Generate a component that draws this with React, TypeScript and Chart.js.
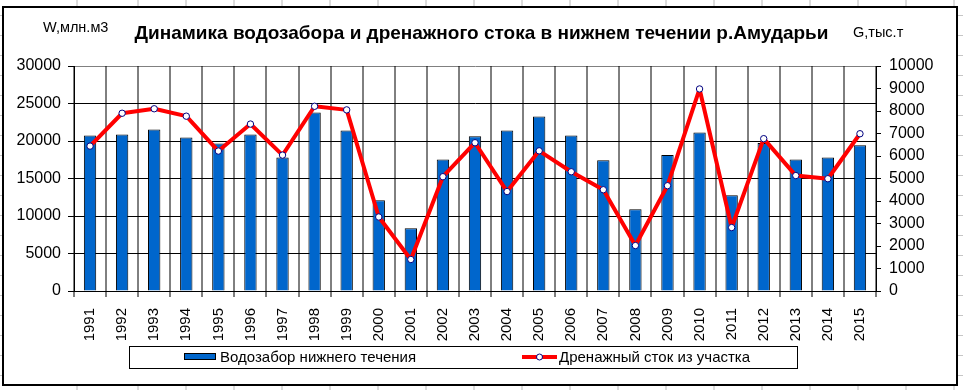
import React, { useEffect, useRef } from "react";
import { Chart, registerables } from "chart.js";

Chart.register(...registerables);

const years = ["1991","1992","1993","1994","1995","1996","1997","1998","1999","2000","2001","2002","2003","2004","2005","2006","2007","2008","2009","2010","2011","2012","2013","2014","2015"];
const waterIntake = [20740, 20870, 21540, 20470, 19680, 20870, 17810, 23800, 21400, 12100, 8380, 17550, 20650, 21400, 23260, 20740, 17420, 10900, 18120, 21140, 12760, 19720, 17550, 17810, 19450];
const drainage = [6440, 7900, 8100, 7770, 6220, 7420, 6040, 8210, 8050, 3290, 1400, 5080, 6590, 4420, 6230, 5300, 4500, 2020, 4680, 8980, 2820, 6770, 5130, 4990, 6990];
const leftTicks = [0, 5000, 10000, 15000, 20000, 25000, 30000];
const rightTicks = [0, 1000, 2000, 3000, 4000, 5000, 6000, 7000, 8000, 9000, 10000];

const titleText = "Динамика водозабора и дренажного стока в нижнем течении р.Амударьи";
const leftAxisTitle = "W,млн.м3";
const rightAxisTitle = "G,тыс.т";
const barLabel = "Водозабор нижнего течения";
const lineLabel = "Дренажный сток из участка";

const FONT = "'Liberation Sans', Arial, sans-serif";

function boundaryXs(chart: any): number[] {
  const pts = chart.getDatasetMeta(0).data.map((e: any) => e.x);
  const out: number[] = [];
  const n = pts.length;
  if (n < 2) return out;
  out.push(pts[0] - (pts[1] - pts[0]) / 2);
  for (let i = 1; i < n; i++) out.push((pts[i - 1] + pts[i]) / 2);
  out.push(pts[n - 1] + (pts[n - 1] - pts[n - 2]) / 2);
  return out;
}

const framePlugin = {
  id: "frame",
  beforeDraw(chart: any) {
    const ctx = chart.ctx as CanvasRenderingContext2D;
    const W = chart.width, H = chart.height;
    ctx.save();
    ctx.fillStyle = "#ffffff";
    ctx.fillRect(0, 0, W, H);
    // spreadsheet cell grid
    ctx.strokeStyle = "#b8b8b8";
    ctx.lineWidth = 1;
    const cols = [77, 138];
    for (let x = 186; x < W; x += 48) cols.push(x);
    ctx.beginPath();
    for (const x of cols) { ctx.moveTo(x, 0); ctx.lineTo(x, H); }
    ctx.stroke();
    ctx.fillStyle = "#c6c6c6";
    for (let y = 15; y < H; y += 20) ctx.fillRect(0, y, W, 1);
    // chart area frame
    ctx.fillStyle = "#ffffff";
    ctx.fillRect(3, 7, 954, 378);
    ctx.strokeStyle = "#000000";
    ctx.lineWidth = 2;
    ctx.strokeRect(3, 7, 954, 378);
    ctx.restore();
  },
  beforeDatasetsDraw(chart: any) {
    // category boundary lines + tick marks below the axis
    const ctx = chart.ctx as CanvasRenderingContext2D;
    const area = chart.chartArea;
    const top = Math.round(area.top);
    const bottom = Math.round(area.bottom) + 6;
    ctx.save();
    ctx.strokeStyle = "#000000";
    ctx.lineWidth = 1;
    ctx.beginPath();
    for (const bx of boundaryXs(chart)) {
      const x = Math.round(bx);
      ctx.moveTo(x, top);
      ctx.lineTo(x, bottom);
    }
    ctx.stroke();
    ctx.restore();
  },
  afterDraw(chart: any) {
    const ctx = chart.ctx as CanvasRenderingContext2D;
    const ds = chart.data.datasets;
    ctx.save();
    ctx.fillStyle = "#000";
    ctx.textBaseline = "alphabetic";
    ctx.textAlign = "center";
    ctx.font = `bold 19px ${FONT}`;
    ctx.fillText(titleText, 481.5, 39);
    ctx.font = `14.5px ${FONT}`;
    ctx.textAlign = "left";
    ctx.fillText(leftAxisTitle, 43, 32);
    ctx.fillText(rightAxisTitle, 853, 37);

    // legend
    ctx.strokeStyle = "#000";
    ctx.lineWidth = 1;
    ctx.strokeRect(129.5, 346.5, 668, 22);
    ctx.fillStyle = ds[0].backgroundColor;
    ctx.fillRect(184, 353, 32, 7);
    ctx.strokeRect(184.5, 353.5, 31, 6);
    ctx.fillStyle = "#000";
    ctx.font = `15px ${FONT}`;
    ctx.textBaseline = "middle";
    ctx.fillText(ds[0].label, 220, 358);
    ctx.strokeStyle = ds[1].borderColor;
    ctx.lineWidth = 4;
    ctx.beginPath();
    ctx.moveTo(522, 357);
    ctx.lineTo(557, 357);
    ctx.stroke();
    ctx.beginPath();
    ctx.arc(539.5, 357, 3, 0, Math.PI * 2);
    ctx.fillStyle = ds[1].pointBackgroundColor;
    ctx.fill();
    ctx.lineWidth = 1;
    ctx.strokeStyle = ds[1].pointBorderColor;
    ctx.stroke();
    ctx.fillStyle = "#000";
    ctx.fillText(ds[1].label, 559, 358);
    ctx.restore();
  },
};

export default function App() {
  const ref = useRef<HTMLCanvasElement | null>(null);
  useEffect(() => {
    if (!ref.current) return;
    const chart = new Chart(ref.current, {
      type: "bar",
      data: {
        labels: years,
        datasets: [
          {
            type: "bar",
            label: barLabel,
            data: waterIntake,
            backgroundColor: "#0066cc",
            borderColor: "#000000",
            borderWidth: 1,
            barPercentage: 0.385,
            categoryPercentage: 1,
            yAxisID: "y",
            order: 2,
          } as any,
          {
            type: "line",
            label: lineLabel,
            data: drainage,
            borderColor: "#ff0000",
            borderWidth: 4,
            borderJoinStyle: "round",
            tension: 0,
            pointRadius: 3.2,
            pointBackgroundColor: "#ffffff",
            pointBorderColor: "#000080",
            pointBorderWidth: 1,
            yAxisID: "y1",
            order: 1,
          } as any,
        ],
      },
      options: {
        responsive: false,
        animation: false,
        layout: { padding: { top: 66, left: 0, right: 0, bottom: 0 } },
        plugins: { legend: { display: false }, tooltip: { enabled: false }, title: { display: false } },
        scales: {
          x: {
            offset: true,
            grid: { display: false },
            border: { display: true, color: "#000", width: 1 },
            ticks: { minRotation: 90, maxRotation: 90, autoSkip: false, color: "#000", padding: 9, font: { family: FONT, size: 15 } },
            afterFit: (s: any) => { s.height = 99; },
          },
          y: {
            position: "left",
            min: 0,
            max: 30000,
            afterBuildTicks: (s: any) => { s.ticks = leftTicks.map((v) => ({ value: v })); },
            grid: {
              color: (c: any) => (c.tick && c.tick.value === 30000 ? "#808080" : "#000"),
              tickColor: "#000",
              tickLength: 6,
              lineWidth: 1,
            },
            border: { color: "#000", width: 1 },
            ticks: { color: "#000", padding: 7, font: { family: FONT, size: 16 }, callback: (v: any) => String(v) },
            afterFit: (s: any) => { s.width = 74; },
          },
          y1: {
            position: "right",
            min: 0,
            max: 10000,
            afterBuildTicks: (s: any) => { s.ticks = rightTicks.map((v) => ({ value: v })); },
            grid: { drawOnChartArea: false, tickColor: "#000", tickLength: 5, color: "#000" },
            border: { color: "#000", width: 1 },
            ticks: { color: "#000", padding: 8, font: { family: FONT, size: 16 }, callback: (v: any) => String(v) },
            afterFit: (s: any) => { s.width = 87; },
          },
        },
      },
      plugins: [framePlugin],
    });
    return () => chart.destroy();
  }, []);
  return (
    <div style={{ position: "fixed", left: 0, top: 0, width: 963, height: 390 }}>
      <canvas ref={ref} width={963} height={390} style={{ display: "block" }} />
    </div>
  );
}
